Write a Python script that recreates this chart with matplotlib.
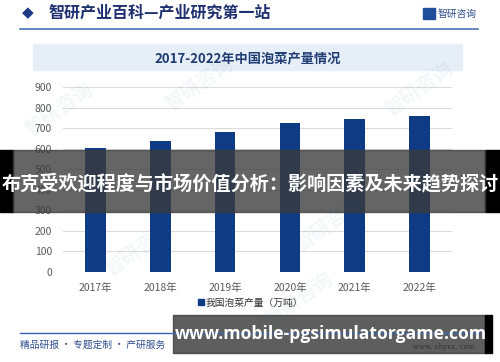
import matplotlib.pyplot as plt
from matplotlib.patches import Rectangle
import numpy as np

plt.rcParams['font.family'] = ['Noto Sans CJK SC', 'DejaVu Sans']

years = ['2017年', '2018年', '2019年', '2020年', '2021年', '2022年']
output = [601, 635, 683, 726, 743, 760]
yticks = [0, 100, 200, 300, 400, 500, 600, 700, 800, 900]
series_name = '我国泡菜产量（万吨）'
chart_title = '2017-2022年中国泡菜产量情况'
header = '智研产业百科—产业研究第一站'
banner = '布克受欢迎程度与市场价值分析：影响因素及未来趋势探讨'
site = 'www.mobile-pgsimulatorgame.com'

W, H = 500, 362
fig = plt.figure(figsize=(5, 3.62), dpi=100)

def px(x, y):
    return x / W, 1 - y / H

def rect(x0, y0, x1, y1, **kw):
    fig.patches.append(Rectangle((x0 / W, 1 - y1 / H), (x1 - x0) / W, (y1 - y0) / H,
                                 transform=fig.transFigure, figure=fig, **kw))

def line(x0, x1, y, color, lw):
    fig.add_artist(plt.Line2D([x0 / W, x1 / W], [1 - y / H, 1 - y / H],
                              transform=fig.transFigure, color=color, lw=lw))

# faint watermarks
for wx, wy in [(60, 110), (200, 85), (330, 225), (140, 250), (420, 90), (300, 300)]:
    fig.text(*px(wx, wy), '智研咨询', fontsize=14, color='#1F4E9A', alpha=0.05,
             rotation=35, ha='center', va='center', fontweight='bold')

# header
fig.text(*px(28, 13), '◆', fontsize=11, color='#1F3C88', ha='center', va='center', family=['DejaVu Sans'])
fig.text(*px(49, 13), header, fontsize=11.5, color='#1F3070', ha='left', va='center', fontweight='bold')
line(20, 478, 28.5, '#4A72B8', 1.2)
rect(423, 8, 435, 19, color='#1F4E9A')
fig.text(*px(438, 14), '智研咨询', fontsize=7, color='#2F4F8F', ha='left', va='center')

# title box
rect(33, 44, 462, 70, color='#E6EEF8')
fig.text(*px(248, 58), chart_title, fontsize=9.5, color='#1F3C73', ha='center', va='center', fontweight='bold')

# chart
ax = fig.add_axes([63 / W, 1 - 272 / H, (452 - 63) / W, (272 - 87) / H])
x = np.arange(len(years))
ax.bar(x, output, width=0.32, color='#0F3A84', zorder=3)
ax.set_xlim(-0.5, len(years) - 0.5)
ax.set_ylim(0, 900)
ax.set_yticks(yticks)
ax.set_xticks(x)
ax.set_xticklabels(years)
ax.grid(axis='y', color='#DCDCDC', lw=0.8, zorder=0)
for s in ax.spines.values():
    s.set_visible(False)
ax.tick_params(axis='both', length=0, labelsize=7.5, colors='#595959')
ax.tick_params(axis='x', pad=8)
ax.tick_params(axis='y', pad=8)
ax.patch.set_alpha(0)

# legend
rect(198, 299, 204, 305, color='#0F3A84')
fig.text(*px(206, 302.5), series_name, fontsize=7, color='#333333', ha='left', va='center')

# footer
line(20, 480, 333, '#3A63B0', 1.0)
fig.text(*px(20, 345), '精品研报 · 专题定制 · 产研服务', fontsize=7, color='#2F4F8F', ha='left', va='center')
fig.text(*px(475, 347), 'www. chyxx. com', fontsize=5, color='#333333', ha='right', va='center', family=['DejaVu Serif'])

# overlay banner
rect(0, 150, 13, 212, color='black')
rect(485, 150, 500, 212, color='black')
rect(13, 150, 485, 212, color='#3A3A3A', alpha=0.78)
fig.text(*px(250, 184), banner, fontsize=13.8, color='white', ha='center', va='center', fontweight='bold')

rect(173, 315, 485, 353, color='#3A3A3A', alpha=0.82)
rect(485, 315, 492, 353, color='black')
fig.text(*px(331, 334), site, fontsize=12.6, color='white', ha='center', va='center', fontweight='bold',
         family=['Open Sans', 'DejaVu Sans'])

fig.savefig('out.png', dpi=100)
